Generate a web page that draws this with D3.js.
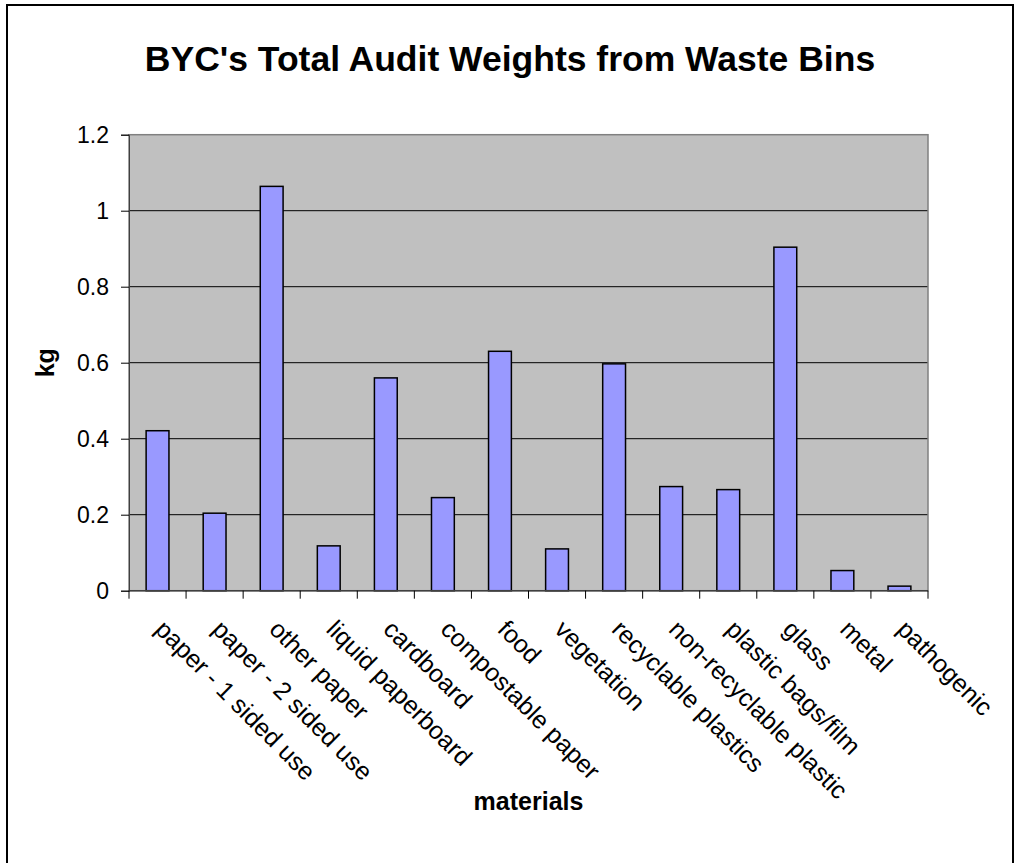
<!DOCTYPE html>
<html><head><meta charset="utf-8">
<script src="https://cdn.jsdelivr.net/npm/d3@7"></script>
<style>body{margin:0;background:#fff}svg{display:block;font-family:"Liberation Sans",Arial,sans-serif}</style>
</head><body><svg id="c" width="1020" height="863"></svg>
<script>
const categories = ["paper - 1 sided use","paper - 2 sided use","other paper","liquid paperboard","cardboard","compostable paper","food","vegetation","recyclable plastics","non-recyclable plastic","plastic bags/film","glass","metal","pathogenic"];
const values = [0.421,0.204,1.064,0.118,0.560,0.245,0.630,0.110,0.597,0.274,0.266,0.904,0.053,0.012];
const yTicks = [0,0.2,0.4,0.6,0.8,1,1.2];
const title = "BYC's Total Audit Weights from Waste Bins";
const xTitle = "materials", yTitle = "kg";

const svg = d3.select("#c");
const L=129, R=928, T=134.7, B=590.7;
svg.append("rect").attr("x",7).attr("y",5).attr("width",1006).attr("height",880).attr("fill","#fff").attr("stroke","#000").attr("stroke-width",2);

const x = d3.scaleBand().domain(categories).range([L,R]).paddingInner(0.6).paddingOuter(0.3);
const xb = d3.scaleBand().domain(categories).range([L,R]);
const y = d3.scaleLinear().domain([0,1.2]).range([B,T]);

svg.append("rect").attr("x",L).attr("y",T).attr("width",R-L).attr("height",B-T).attr("fill","#C0C0C0");
svg.append("g").selectAll("line").data(yTicks.filter(d=>d>0&&d<1.2)).join("line")
  .attr("x1",L).attr("x2",R).attr("y1",d=>y(d)).attr("y2",d=>y(d)).attr("stroke","#000").attr("stroke-width",1);
svg.append("rect").attr("x",L).attr("y",T).attr("width",R-L).attr("height",B-T).attr("fill","none").attr("stroke","#808080").attr("stroke-width",1.5);

svg.append("g").selectAll("rect").data(values).join("rect")
  .attr("x",(d,i)=>x(categories[i])).attr("width",x.bandwidth())
  .attr("y",d=>y(d)).attr("height",d=>B-y(d))
  .attr("fill","#9999FF").attr("stroke","#000").attr("stroke-width",1.5);

// y axis
const ya = svg.append("g").attr("transform",`translate(${L},0)`)
  .call(d3.axisLeft(y).tickValues(yTicks).tickFormat(d3.format("~g")).tickSize(8).tickPadding(12));
ya.select(".domain").attr("stroke","#404040");
ya.selectAll(".tick line").attr("stroke","#000");
ya.selectAll("text").attr("font-size",23).attr("fill","#000").attr("font-family","Liberation Sans, Arial");

// x axis
const xa = svg.append("g").attr("transform",`translate(0,${B})`);
xa.append("line").attr("x1",L).attr("x2",R).attr("stroke","#404040").attr("stroke-width",1.5);
xa.selectAll(".tk").data(categories.concat(["__end"])).join("line")
  .attr("x1",(d,i)=>i<categories.length?xb(d):R).attr("x2",(d,i)=>i<categories.length?xb(d):R)
  .attr("y1",0).attr("y2",8).attr("stroke","#000");
svg.append("g").selectAll("text").data(categories).join("text")
  .attr("transform",d=>`translate(${xb(d)+xb.bandwidth()/2+9},618) rotate(45)`)
  .attr("dy","0.72em").attr("font-size",25).attr("fill","#000").text(d=>d);

svg.append("text").attr("x",510).attr("y",71).attr("text-anchor","middle").attr("font-size",35.5).attr("font-weight","bold").text(title);
svg.append("text").attr("x",(L+R)/2).attr("y",810).attr("text-anchor","middle").attr("font-size",25).attr("font-weight","bold").text(xTitle);
svg.append("text").attr("transform",`translate(54,${(T+B)/2}) rotate(-90)`).attr("text-anchor","middle").attr("font-size",25).attr("font-weight","bold").text(yTitle);
</script></body></html>
